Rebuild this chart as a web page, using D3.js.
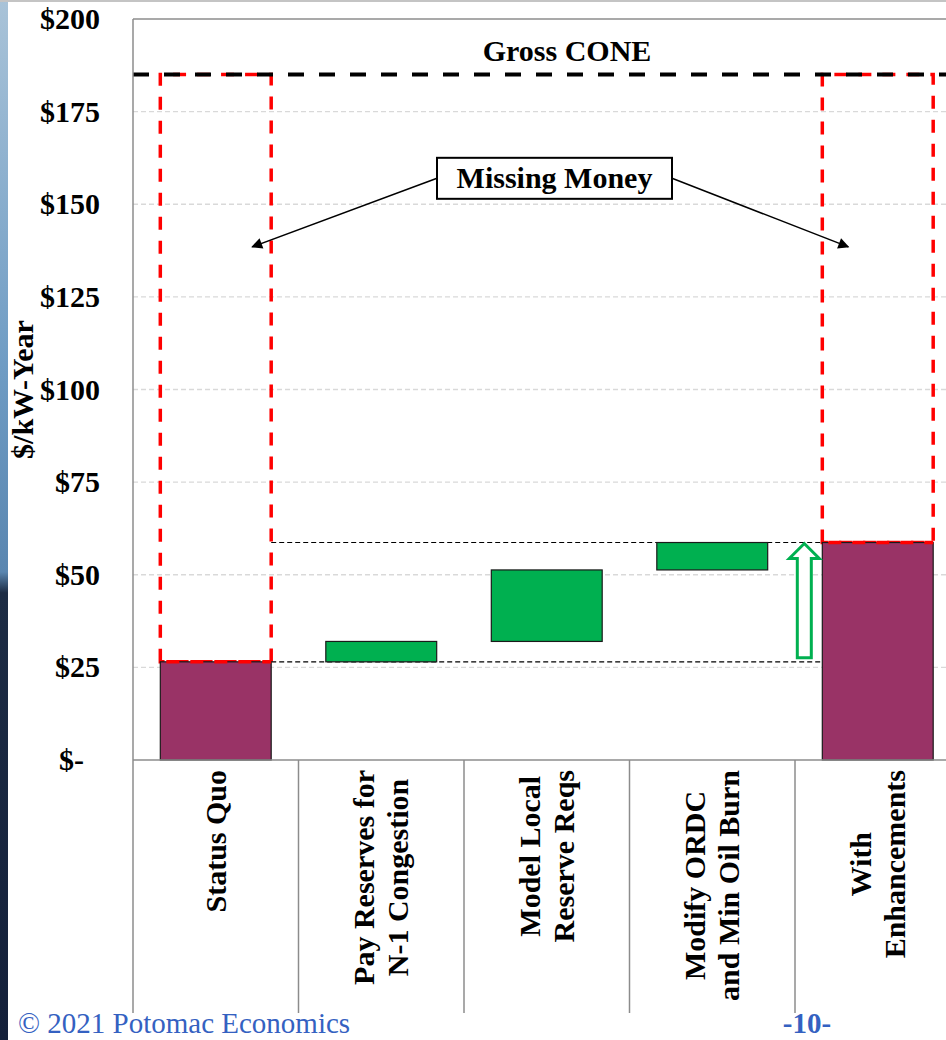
<!DOCTYPE html>
<html lang="en">
  <head>
    <meta charset="utf-8"/>
    <style>
      body {
        margin: 0;
        background: #fff;
        font-family: "Liberation Serif", "Times New Roman", serif;
      }
      .tick-label, .cat-label, .note {
        font-weight: bold;
        fill: #000;
      }
    </style>
    <script src="https://cdn.jsdelivr.net/npm/d3@7"></script>
  </head>
  <body>
    <script type="text/javascript">
      // chart data
      var categories = ["Status Quo", "Pay Reserves for\nN-1 Congestion", "Model Local\nReserve Reqs",
                        "Modify ORDC\nand Min Oil Burn", "With\nEnhancements"];
      var barType = ["total", "step", "step", "step", "total"];
      var barValues = [26.5, 5.5, 19.3, 7.4, 58.7];
      var grossCone = 185;
      var yTicks = [0, 25, 50, 75, 100, 125, 150, 175, 200];

      // page sizes
      var w = 946;
      var h = 1040;
      var plotLeft = 133;
      var plotTop = 19;
      var plotBottom = 760;
      var labelBottom = 1013;

      var svg = d3.select("body")
                  .append("svg")
                  .attr("width", w)
                  .attr("height", h);

      // slide leftovers: photo strip on the left and thin frame line on top
      var grad = svg.append("defs").append("linearGradient")
                    .attr("id", "strip")
                    .attr("x1", 0).attr("y1", 0).attr("x2", 0).attr("y2", 1);
      grad.append("stop").attr("offset", 0).attr("stop-color", "#a9c3d8");
      grad.append("stop").attr("offset", 0.35).attr("stop-color", "#6f9cc4");
      grad.append("stop").attr("offset", 0.55).attr("stop-color", "#5a86b0");
      grad.append("stop").attr("offset", 0.57).attr("stop-color", "#1d2c44");
      grad.append("stop").attr("offset", 1).attr("stop-color", "#14203a");
      svg.append("rect")
         .attr("x", 0).attr("y", 0)
         .attr("width", 8).attr("height", h)
         .attr("fill", "url(#strip)");
      svg.append("line")
         .attr("x1", 0).attr("x2", w)
         .attr("y1", 1).attr("y2", 1)
         .attr("stroke", "#c4c4c4")
         .attr("stroke-width", 2);

      // scales
      var xScale = d3.scaleBand()
                     .domain(categories)
                     .range([plotLeft, plotLeft + 165.5 * categories.length]);
      var barWidth = xScale.bandwidth() * 0.67;
      var barX = function(c) {
        return xScale(c) + (xScale.bandwidth() - barWidth) / 2;
      };
      var yScale = d3.scaleLinear()
                     .domain([0, 200])
                     .range([plotBottom, plotTop]);

      // waterfall: compute start / end for each bar
      var running = 0;
      var bars = categories.map(function(c, i) {
        var lo, hi;
        if (barType[i] == "total") {
          lo = 0;
          hi = barValues[i];
          running = hi;
        } else {
          lo = running;
          hi = running + barValues[i];
          running = hi;
        }
        return {cat: c, type: barType[i], lo: lo, hi: hi};
      });
      var first = bars[0];
      var last = bars[bars.length - 1];

      // gridlines
      svg.append("g")
         .selectAll("line")
         .data(yTicks.filter(function(d) { return d > 0 && d < 200; }))
         .enter()
         .append("line")
         .attr("x1", plotLeft)
         .attr("x2", w)
         .attr("y1", function(d) { return yScale(d); })
         .attr("y2", function(d) { return yScale(d); })
         .attr("stroke", "#d9d9d9")
         .attr("stroke-width", 1.3)
         .attr("stroke-dasharray", "5,3");

      // y axis labels
      var yAxis = d3.axisLeft(yScale)
                    .tickValues(yTicks)
                    .tickSize(0)
                    .tickPadding(0)
                    .tickFormat(function(d) { return d == 0 ? "$-" : "$" + d; });
      var yg = svg.append("g")
                  .attr("transform", "translate(100,0)")
                  .call(yAxis);
      yg.select(".domain").remove();
      yg.selectAll("text")
        .attr("class", "tick-label")
        .attr("font-family", "Liberation Serif")
        .attr("font-size", "30px")
        .attr("dx", function(d) { return d == 0 ? -16 : 0; });

      // y axis title
      svg.append("text")
         .attr("class", "note")
         .attr("transform", "translate(33," + ((plotTop + plotBottom) / 2) + ") rotate(-90)")
         .attr("text-anchor", "middle")
         .attr("font-size", "30px")
         .text("$/kW-Year");

      // missing money outlines (dashed red), under the cone line
      [first, last].forEach(function(b) {
        var x0 = barX(b.cat);
        var x1 = x0 + barWidth;
        var yt = yScale(grossCone);
        var yb = yScale(b.hi);
        svg.append("path")
           .attr("d", "M" + x0 + "," + yb + "V" + yt + "H" + x1 + "V" + yb + "Z")
           .attr("fill", "none")
           .attr("stroke", "#ff0000")
           .attr("stroke-width", 3.5)
           .attr("stroke-dasharray", "13,11");
      });

      // gross cone line
      svg.append("line")
         .attr("x1", plotLeft)
         .attr("x2", w)
         .attr("y1", yScale(grossCone))
         .attr("y2", yScale(grossCone))
         .attr("stroke", "#000")
         .attr("stroke-width", 4)
         .attr("stroke-dasharray", "16,15");
      svg.append("text")
         .attr("class", "note")
         .attr("x", 567)
         .attr("y", yScale(grossCone) - 14)
         .attr("text-anchor", "middle")
         .attr("font-size", "30px")
         .text("Gross CONE");

      // connector lines between totals
      [first.hi, last.hi].forEach(function(v) {
        svg.append("line")
           .attr("x1", barX(first.cat) + barWidth)
           .attr("x2", barX(last.cat))
           .attr("y1", yScale(v))
           .attr("y2", yScale(v))
           .attr("stroke", "#000")
           .attr("stroke-width", 1.2)
           .attr("stroke-dasharray", "5,3");
      });

      // the bars
      svg.append("g")
         .selectAll("rect")
         .data(bars)
         .enter()
         .append("rect")
         .attr("x", function(d) { return barX(d.cat); })
         .attr("y", function(d) { return yScale(d.hi); })
         .attr("width", barWidth)
         .attr("height", function(d) { return yScale(d.lo) - yScale(d.hi); })
         .attr("fill", function(d) { return d.type == "total" ? "#993366" : "#00b050"; })
         .attr("stroke", "#1a1a1a")
         .attr("stroke-width", 1.2);

      // red dashes along the top of the total bars
      [first, last].forEach(function(b) {
        svg.append("line")
           .attr("x1", barX(b.cat))
           .attr("x2", barX(b.cat) + barWidth)
           .attr("y1", yScale(b.hi))
           .attr("y2", yScale(b.hi))
           .attr("stroke", "#ff0000")
           .attr("stroke-width", 3.5)
           .attr("stroke-dasharray", "13,11")
           .attr("stroke-dashoffset", -6);
      });

      // hollow green up arrow
      var ax = barX(last.cat) - 18;
      var aBot = yScale(first.hi) - 4;
      var aTip = yScale(last.hi) + 1;
      var headH = 15;
      svg.append("path")
         .attr("d", "M" + (ax - 7) + "," + aBot +
                    "V" + (aTip + headH) + "H" + (ax - 15) +
                    "L" + ax + "," + aTip +
                    "L" + (ax + 15) + "," + (aTip + headH) +
                    "H" + (ax + 7) + "V" + aBot + "Z")
         .attr("fill", "#fff")
         .attr("stroke", "#00b050")
         .attr("stroke-width", 3);

      // plot frame
      svg.append("line")
         .attr("x1", plotLeft).attr("x2", w)
         .attr("y1", plotTop).attr("y2", plotTop)
         .attr("stroke", "#8c8c8c").attr("stroke-width", 1.5);
      svg.append("line")
         .attr("x1", plotLeft).attr("x2", w)
         .attr("y1", plotBottom).attr("y2", plotBottom)
         .attr("stroke", "#8c8c8c").attr("stroke-width", 1.5);
      svg.append("line")
         .attr("x1", plotLeft).attr("x2", plotLeft)
         .attr("y1", plotTop).attr("y2", labelBottom)
         .attr("stroke", "#8c8c8c").attr("stroke-width", 1.5);

      // category separators below axis
      svg.append("g")
         .selectAll("line")
         .data(categories.slice(1))
         .enter()
         .append("line")
         .attr("x1", function(d) { return xScale(d); })
         .attr("x2", function(d) { return xScale(d); })
         .attr("y1", plotBottom)
         .attr("y2", labelBottom)
         .attr("stroke", "#8c8c8c")
         .attr("stroke-width", 1.5);

      // missing money callout
      var boxCx = 554.5;
      var boxCy = yScale(157);
      var boxW = 235;
      var boxH = 41;
      var arrowTips = [[barX(first.cat) + barWidth - 19, yScale(138.5)],
                       [barX(last.cat) + 26, yScale(138.5)]];
      var mk = svg.select("defs").append("marker")
                  .attr("id", "head")
                  .attr("viewBox", "0 0 10 10")
                  .attr("refX", 9).attr("refY", 5)
                  .attr("markerWidth", 12).attr("markerHeight", 11)
                  .attr("markerUnits", "userSpaceOnUse")
                  .attr("orient", "auto");
      mk.append("path").attr("d", "M0,0L10,5L0,10Z").attr("fill", "#000");
      svg.append("line")
         .attr("x1", boxCx - boxW / 2).attr("y1", boxCy)
         .attr("x2", arrowTips[0][0]).attr("y2", arrowTips[0][1])
         .attr("stroke", "#000").attr("stroke-width", 1.5)
         .attr("marker-end", "url(#head)");
      svg.append("line")
         .attr("x1", boxCx + boxW / 2).attr("y1", boxCy)
         .attr("x2", arrowTips[1][0]).attr("y2", arrowTips[1][1])
         .attr("stroke", "#000").attr("stroke-width", 1.5)
         .attr("marker-end", "url(#head)");
      svg.append("rect")
         .attr("x", boxCx - boxW / 2)
         .attr("y", boxCy - boxH / 2)
         .attr("width", boxW)
         .attr("height", boxH)
         .attr("fill", "#fff")
         .attr("stroke", "#000")
         .attr("stroke-width", 2);
      svg.append("text")
         .attr("class", "note")
         .attr("x", boxCx)
         .attr("y", boxCy + 10)
         .attr("text-anchor", "middle")
         .attr("font-size", "30px")
         .text("Missing Money");

      // category labels, rotated, block aligned to the top
      categories.forEach(function(c) {
        var lines = c.split("\n");
        var g = svg.append("g").attr("class", "cat-label");
        var texts = lines.map(function(line, i) {
          return g.append("text")
                  .attr("text-anchor", "middle")
                  .attr("font-size", "30px")
                  .attr("font-weight", "bold")
                  .attr("y", 10 + (i - (lines.length - 1) / 2) * 34)
                  .text(line);
        });
        var maxLen = d3.max(texts, function(t) { return t.node().getComputedTextLength(); });
        var cx = xScale(c) + xScale.bandwidth() / 2;
        g.attr("transform", "translate(" + cx + "," + (770 + maxLen / 2) + ") rotate(-90)");
      });

      // footer
      svg.append("text")
         .attr("x", 18)
         .attr("y", 1033)
         .attr("font-size", "29px")
         .attr("fill", "#3461c1")
         .text("\u00a9 2021 Potomac Economics");
      svg.append("text")
         .attr("x", 807)
         .attr("y", 1033)
         .attr("text-anchor", "middle")
         .attr("font-size", "29px")
         .attr("font-weight", "bold")
         .attr("fill", "#3461c1")
         .text("-10-");
    </script>
  </body>
</html>
